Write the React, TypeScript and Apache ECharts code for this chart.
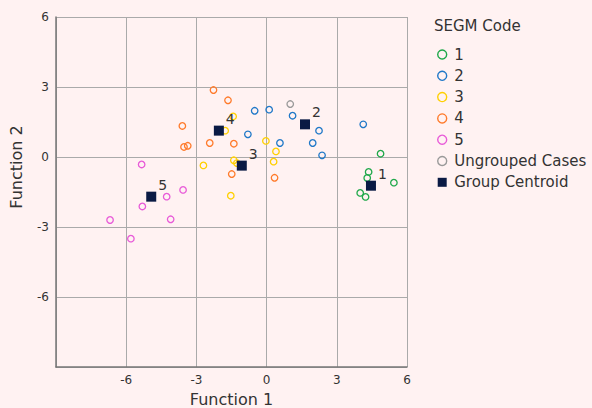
import React, { useEffect, useRef } from "react";
import * as echarts from "echarts";

const groupNames = ["1", "2", "3", "4", "5"];
const groupColors = ["#1fa84a", "#1f78c8", "#ffd000", "#ff7a2a", "#e85ad8"];
const group1 = [[4.87, 0.14], [4.36, -0.64], [4.30, -0.90], [5.44, -1.10], [4.00, -1.54], [4.23, -1.71]];
const group2 = [[-0.51, 1.98], [0.11, 2.03], [1.11, 1.77], [2.24, 1.13], [-0.80, 0.97], [0.57, 0.60], [1.97, 0.60], [2.37, 0.07], [4.13, 1.40]];
const group3 = [[-1.43, 1.74], [-1.77, 1.13], [-0.03, 0.69], [0.40, 0.24], [0.30, -0.20], [-1.40, -0.14], [-1.27, -0.26], [-2.70, -0.36], [-1.53, -1.66]];
const group4 = [[-2.27, 2.87], [-1.65, 2.43], [-3.60, 1.33], [-3.53, 0.43], [-3.37, 0.48], [-2.43, 0.60], [-1.40, 0.57], [-1.49, -0.73], [0.34, -0.89]];
const group5 = [[-5.34, -0.32], [-3.57, -1.41], [-4.27, -1.70], [-5.31, -2.12], [-6.69, -2.70], [-4.10, -2.67], [-5.80, -3.50]];
const ungrouped = [[1.01, 2.27]];
const centroidLabels = ["1", "2", "3", "4", "5"];
const centroids = [[4.46, -1.23], [1.64, 1.40], [-1.06, -0.37], [-2.04, 1.13], [-4.93, -1.70]];
const axisTicks = [-9, -6, -3, 0, 3, 6];

const FONT = "DejaVu Sans";

export default function App() {
  const ref = useRef<HTMLDivElement>(null);
  useEffect(() => {
    const chart = echarts.init(ref.current!, null, { renderer: "svg" });
    const groups = [group1, group2, group3, group4, group5];
    const scatterSeries = groups.map((g, i) => ({
      name: groupNames[i],
      type: "scatter",
      data: g,
      symbol: "circle",
      symbolSize: 6.5,
      itemStyle: { color: "transparent", borderColor: groupColors[i], borderWidth: 1.3, opacity: 1 },
      z: 2,
    }));
    const fmt = (v: number) => (v === axisTicks[0] ? "" : String(v));
    chart.setOption({
      animation: false,
      backgroundColor: "#fff2f2",
      textStyle: { fontFamily: FONT },
      title: {
        text: "SEGM Code",
        left: 434,
        top: 18,
        padding: 0,
        textStyle: { fontFamily: FONT, fontSize: 15, fontWeight: "normal", color: "#333" },
      },
      legend: {
        orient: "vertical",
        left: 432,
        top: 41,
        itemWidth: 14,
        itemHeight: 9,
        itemGap: 4.3,
        textStyle: { fontFamily: FONT, fontSize: 15, color: "#333", lineHeight: 17 },
        itemStyle: { borderWidth: 1.4, opacity: 1 },
        data: [
          ...groupNames.map((n) => ({ name: n, icon: "circle" })),
          { name: "Ungrouped Cases", icon: "circle" },
          { name: "Group Centroid", icon: "path://M0 0H10V10H0Z", itemStyle: { borderWidth: 0 } },
        ],
      },
      grid: { left: 56, top: 17, right: 185, bottom: 41, containLabel: false, outerBoundsMode: "none" },
      xAxis: {
        type: "value",
        min: -9,
        max: 6,
        interval: 3,
        name: "Function 1",
        nameLocation: "middle",
        nameGap: 24,
        nameTextStyle: { fontFamily: FONT, fontSize: 16, color: "#333" },
        axisLine: { onZero: false, lineStyle: { color: "#777", width: 1.5 } },
        axisTick: { show: false },
        axisLabel: { formatter: fmt, fontSize: 12, color: "#333", margin: 7 },
        splitLine: { lineStyle: { color: "#aaa", width: 1 } },
      },
      yAxis: {
        type: "value",
        min: -9,
        max: 6,
        interval: 3,
        name: "Function 2",
        nameLocation: "middle",
        nameGap: 32,
        nameTextStyle: { fontFamily: FONT, fontSize: 16, color: "#333", padding: [0, 0, 0, 50] },
        axisLine: { onZero: false, lineStyle: { color: "#777", width: 1.5 } },
        axisTick: { show: false },
        axisLabel: { formatter: fmt, fontSize: 12, color: "#333", margin: 7 },
        splitLine: { lineStyle: { color: "#aaa", width: 1 } },
      },
      series: [
        ...scatterSeries,
        {
          name: "Ungrouped Cases",
          type: "scatter",
          data: ungrouped,
          symbol: "circle",
          symbolSize: 6.5,
          itemStyle: { color: "transparent", borderColor: "#999", borderWidth: 1.3, opacity: 1 },
          z: 2,
        },
        {
          name: "Group Centroid",
          type: "scatter",
          data: centroids.map((c, i) => ({ value: c, name: centroidLabels[i] })),
          symbol: "rect",
          symbolSize: 10,
          itemStyle: { color: "#0a1a44", opacity: 1 },
          label: {
            show: true,
            formatter: (p: any) => p.name,
            position: "right",
            distance: 2,
            offset: [0, -12],
            fontFamily: FONT,
            fontSize: 14,
            color: "#333",
          },
          z: 3,
        },
      ],
    });
    return () => chart.dispose();
  }, []);
  return (
    <div
      ref={ref}
      style={{ position: "fixed", left: 0, top: 0, width: 592, height: 408 }}
    />
  );
}
